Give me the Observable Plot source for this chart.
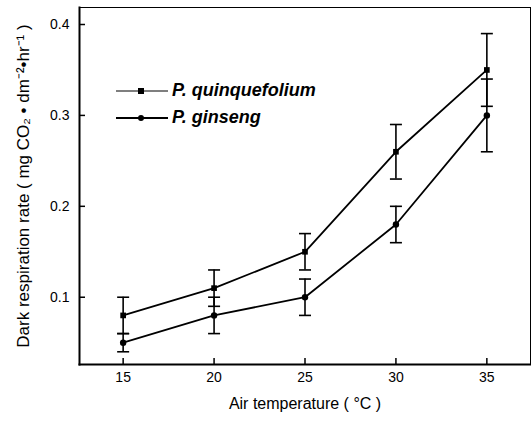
<!DOCTYPE html>
<html><head><meta charset="utf-8">
<script src="https://cdn.jsdelivr.net/npm/d3@7"></script>
<script src="https://cdn.jsdelivr.net/npm/@observablehq/plot@0.6"></script>
<style>
body{margin:0;background:#fff;font-family:"Liberation Sans",Arial,sans-serif;}
#wrap{position:relative;width:531px;height:421px;}
#legend{position:absolute;left:116px;top:77px;font:italic bold 18px "Liberation Sans",Arial,sans-serif;}
#legend div{display:flex;align-items:center;height:27px;}
#legend svg{margin-right:4px;}
</style></head>
<body><div id="wrap"><div id="legend"></div></div>
<script>
const temps = [15, 20, 25, 30, 35];
const quinqueMean = [0.08, 0.11, 0.15, 0.26, 0.35];
const quinqueErr = [0.02, 0.02, 0.02, 0.03, 0.04];
const ginsengMean = [0.05, 0.08, 0.10, 0.18, 0.30];
const ginsengErr = [0.01, 0.02, 0.02, 0.02, 0.04];
const seriesNames = ["P. quinquefolium", "P. ginseng"];
const yTicks = [0.1, 0.2, 0.3, 0.4];
const xTicks = [15, 20, 25, 30, 35];

const data = [];
temps.forEach((t, i) => {
  data.push({s: seriesNames[0], t, m: quinqueMean[i], lo: quinqueMean[i] - quinqueErr[i], hi: quinqueMean[i] + quinqueErr[i]});
  data.push({s: seriesNames[1], t, m: ginsengMean[i], lo: ginsengMean[i] - ginsengErr[i], hi: ginsengMean[i] + ginsengErr[i]});
});
const capSymbol = {draw(ctx, size){ const w = 6; ctx.moveTo(-w, 0); ctx.lineTo(w, 0); }};
const symFor = s => s === seriesNames[0] ? "square" : "circle";

const chart = Plot.plot({
  width: 531, height: 421,
  marginLeft: 79, marginRight: 1, marginTop: 7, marginBottom: 57,
  style: {fontFamily: '"Liberation Sans", Arial, sans-serif', fontSize: "14px", color: "#000", background: "#fff"},
  x: {domain: [12.6, 37.4], ticks: xTicks, label: null},
  y: {domain: [0.026, 0.4187], ticks: yTicks, label: null, tickFormat: d3.format(".1f")},
  marks: [
    Plot.frame({stroke: "#000", strokeWidth: 1}),
    Plot.frame({anchor: "left", stroke: "#000", strokeWidth: 2}),
    Plot.frame({anchor: "bottom", stroke: "#000", strokeWidth: 2}),
    Plot.axisX({ticks: xTicks, tickSize: -6, tickPadding: 14, strokeWidth: 1.5, label: null, fontSize: 14}),
    Plot.axisY({ticks: yTicks, tickSize: -6, tickPadding: 16, strokeWidth: 1.5, label: null, tickFormat: d3.format(".1f"), fontSize: 14}),
    Plot.ruleX(data, {x: "t", y1: "lo", y2: "hi", stroke: "#000", strokeWidth: 1.6}),
    Plot.dot(data, {x: "t", y: "lo", symbol: capSymbol, stroke: "#000", strokeWidth: 1.6, r: 6}),
    Plot.dot(data, {x: "t", y: "hi", symbol: capSymbol, stroke: "#000", strokeWidth: 1.6, r: 6}),
    Plot.line(data, {x: "t", y: "m", z: "s", stroke: "#000", strokeWidth: 1.8}),
    Plot.dot(data, {x: "t", y: "m", symbol: d => symFor(d.s), fill: "#000", stroke: "none", r: 3.2}),
    Plot.text(["Air temperature ( \u00B0C )"], {frameAnchor: "bottom", dy: 44, fontSize: 16}),
    Plot.text(["Dark respiration rate ( mg CO\u2082 \u2022 dm\u207B\u00B2\u2022hr\u207B\u00B9 )"], {frameAnchor: "left", textAnchor: "middle", dx: -56, rotate: -90, fontSize: 17})
  ]
});
const wrap = document.getElementById("wrap");
wrap.insertBefore(chart, wrap.firstChild);

const legend = document.getElementById("legend");
seriesNames.forEach((name, i) => {
  const row = document.createElement("div");
  const sym = i === 0
    ? '<rect x="22" y="7" width="6" height="6" fill="#000"/>'
    : '<circle cx="25" cy="10" r="3" fill="#000"/>';
  row.innerHTML = `<svg width="52" height="20"><line x1="0" x2="52" y1="10" y2="10" stroke="#000" stroke-width="${i===0?1.2:1.8}"/>${sym}</svg><span>${name}</span>`;
  legend.appendChild(row);
});
</script></body></html>
